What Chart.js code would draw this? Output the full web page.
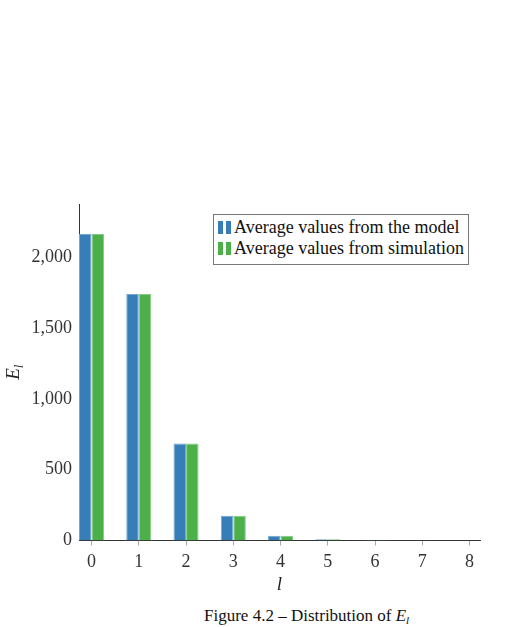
<!DOCTYPE html>
<html>
<head>
<meta charset="utf-8">
<script src="https://cdn.jsdelivr.net/npm/chart.js@4/dist/chart.umd.min.js"></script>
<style>
    body { margin: 0; background: #fff; width: 518px; height: 627px; overflow: hidden; position: relative; }
    #wrap { position: absolute; left: 0; top: 0; }
    #legend {
        position: absolute; left: 213px; top: 214px; width: 254px; height: 49px;
        border: 1px solid #777; background: #fff;
        font-family: "Liberation Serif", serif; font-size: 18px; color: #111;
    }
    .item { height: 21px; line-height: 21px; padding-left: 4px; white-space: nowrap; }
    .item:first-child { margin-top: 2px; }
    .icon { display: inline-block; width: 14px; height: 13px; margin-right: 2px; vertical-align: -1px; position: relative; }
    .icon span { position: absolute; top: 0; width: 5px; height: 13px; }
    #caption {
        position: absolute; left: 204px; top: 606px;
        font-family: "Liberation Serif", serif; font-size: 17px; color: #111; white-space: nowrap;
    }
    #caption sub { font-size: 11px; vertical-align: -3px; line-height: 0; }
</style>
</head>
<body>
<div id="wrap"><canvas id="chart" width="518" height="600"></canvas></div>
<div id="legend"></div>
<div id="caption">Figure 4.2 – Distribution of <i>E</i><sub><i>l</i></sub></div>
<script>
/* values */
const levels = [0, 1, 2, 3, 4, 5, 6, 7, 8];
const modelValues = [2164, 1739, 684, 175, 34, 8, 3, 1.5, 0.7];
const simValues = [2164, 1739, 684, 175, 34, 9, 3, 1.5, 0.7];
const seriesNames = ['Average values from the model', 'Average values from simulation'];
const seriesColors = ['#377eb8', '#4daf4a'];
const seriesEdges = ['#72a6d3', '#86cc83'];
const yTicks = [0, 500, 1000, 1500, 2000];

function toPoints(vals) {
    return levels.map(function (l, i) { return {x: l, y: vals[i]}; });
};

/* draws E_l and l titles (with subscript) */
const axisTitles = {
    id: 'axisTitles',
    afterDraw(chart) {
        var ctx = chart.ctx;
        var area = chart.chartArea;
        ctx.save();
        ctx.fillStyle = '#222';
        ctx.textBaseline = 'alphabetic';
        // y title
        ctx.translate(19, (area.top + area.bottom) / 2);
        ctx.rotate(-Math.PI / 2);
        ctx.font = 'italic 19px "Liberation Serif"';
        var wE = ctx.measureText('E').width;
        ctx.font = 'italic 13px "Liberation Serif"';
        var wl = ctx.measureText('l').width;
        var x0 = -(wE + wl) / 2;
        ctx.font = 'italic 19px "Liberation Serif"';
        ctx.fillText('E', x0, 0);
        ctx.font = 'italic 13px "Liberation Serif"';
        ctx.fillText('l', x0 + wE, 4);
        ctx.restore();
        // x title
        ctx.save();
        ctx.fillStyle = '#222';
        ctx.font = 'italic 19px "Liberation Serif"';
        ctx.textAlign = 'center';
        ctx.textBaseline = 'middle';
        ctx.fillText('l', (area.left + area.right) / 2, 585);
        ctx.restore();
    }
};

var tickFont = {family: '"Liberation Serif", serif', size: 18};

var myChart = new Chart(document.getElementById('chart'), {
    type: 'bar',
    data: {
        datasets: [{
            label: seriesNames[0],
            data: toPoints(modelValues),
            backgroundColor: seriesColors[0],
            borderColor: seriesEdges[0],
            borderWidth: 1
        }, {
            label: seriesNames[1],
            data: toPoints(simValues),
            backgroundColor: seriesColors[1],
            borderColor: seriesEdges[1],
            borderWidth: 1
        }]
    },
    options: {
        responsive: false,
        devicePixelRatio: 1,
        animation: false,
        categoryPercentage: 0.53,
        barPercentage: 1,
        layout: {padding: {top: 204, right: 38, left: 0, bottom: 9.5}},
        plugins: {
            legend: {display: false},
            tooltip: {enabled: false}
        },
        scales: {
            x: {
                type: 'linear',
                offset: false,
                min: -0.265,
                max: 8.22,
                afterBuildTicks: function (scale) {
                    scale.ticks = levels.map(function (v) { return {value: v}; });
                },
                afterFit: function (scale) { scale.height = 50; },
                grid: {display: true, offset: false, drawOnChartArea: false, drawTicks: true, tickLength: 5, color: '#aaa'},
                border: {display: true, color: '#333', width: 1},
                ticks: {font: tickFont, color: '#333', padding: 6, maxRotation: 0}
            },
            y: {
                min: 0,
                max: 2375,
                afterBuildTicks: function (scale) {
                    scale.ticks = yTicks.map(function (v) { return {value: v}; });
                },
                afterFit: function (scale) { scale.width = 79; },
                grid: {display: false, drawTicks: false},
                border: {display: true, color: '#333', width: 1},
                ticks: {
                    font: tickFont, color: '#333', padding: 7,
                    callback: function (v) { return v.toLocaleString('en-US'); }
                }
            }
        }
    },
    plugins: [axisTitles]
});

/* html legend */
var legend = document.getElementById('legend');
seriesNames.forEach(function (name, i) {
    var row = document.createElement('div');
    row.className = 'item';
    row.innerHTML = '<span class="icon"><span style="left:0;background:' + seriesColors[i] +
        '"></span><span style="left:8px;background:' + seriesColors[i] + '"></span></span>' + name;
    legend.appendChild(row);
});
</script>
</body>
</html>
